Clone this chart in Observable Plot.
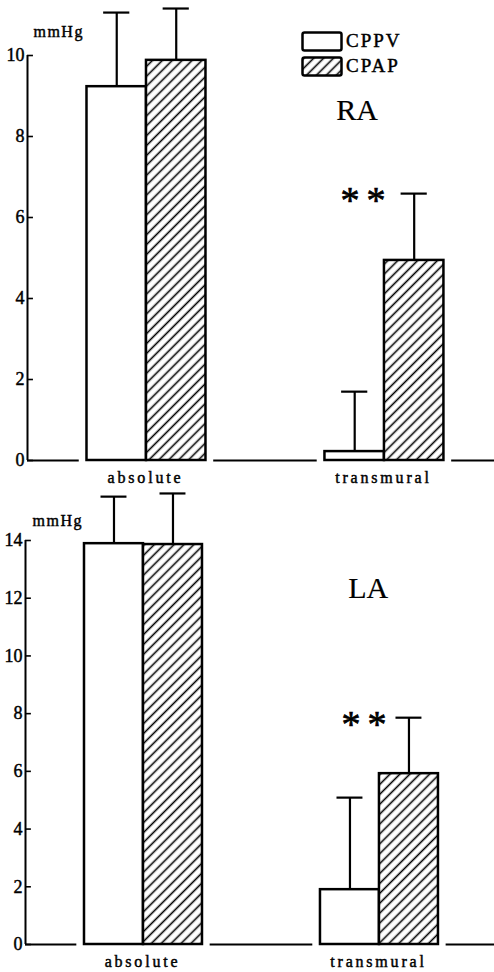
<!DOCTYPE html>
<html>
<head>
<meta charset="utf-8">
<script src="https://cdn.jsdelivr.net/npm/d3@7"></script>
<script src="https://cdn.jsdelivr.net/npm/@observablehq/plot@0.6"></script>
<style>
  html, body { margin: 0; padding: 0; background: #fff; }
  #wrap { position: relative; width: 494px; height: 972px; font-family: "Liberation Serif", serif; color: #000; }
  #wrap svg.plot { display: block; }
  #wrap svg text { font-family: "Liberation Serif", serif; stroke: #000; stroke-width: 0.45px; paint-order: stroke; }
  #wrap svg text.big { stroke-width: 0.2px; }
  #wrap svg text.sig { stroke-width: 0.7px; }
  .leg { position: absolute; }
  .leg span { position: absolute; font-size: 19px; letter-spacing: 2px; line-height: 1; white-space: nowrap; -webkit-text-stroke: 0.45px #000; }
</style>
</head>
<body>
<div id="wrap"></div>
<script>
// ---- data (mmHg) ----
const groups = ["absolute", "transmural"];
const series = ["CPPV", "CPAP"];
const panels = ["RA", "LA"];

const raCPPV   = [9.23, 0.22];
const raCPPVsd = [1.83, 1.48];
const raCPAP   = [9.88, 4.94];
const raCPAPsd = [1.28, 1.65];
const raSig    = ["", "**"];
const raTicks  = [0, 2, 4, 6, 8, 10];

const laCPPV   = [13.89, 1.90];
const laCPPVsd = [1.63, 3.19];
const laCPAP   = [13.86, 5.92];
const laCPAPsd = [1.77, 1.94];
const laSig    = ["", "**"];
const laTicks  = [0, 2, 4, 6, 8, 10, 12, 14];

// ---- drawing ----
const wrap = document.getElementById("wrap");

function addHatch(svgNode, id, spacing, sw) {
  const defs = d3.select(svgNode).insert("defs", ":first-child");
  defs.append("pattern")
    .attr("id", id)
    .attr("patternUnits", "userSpaceOnUse")
    .attr("width", spacing).attr("height", spacing)
    .attr("patternTransform", "rotate(45)")
    .call(p => p.append("rect").attr("width", spacing).attr("height", spacing).attr("fill", "white"))
    .append("line")
    .attr("x1", spacing / 2).attr("x2", spacing / 2)
    .attr("y1", 0).attr("y2", spacing)
    .attr("stroke", "black").attr("stroke-width", sw);
}

function panel(o) {
  const rows = [];
  groups.forEach((g, i) => {
    const c = 2 + 4 * i;
    [[o.cppv, o.cppvSd], [o.cpap, o.cpapSd]].forEach(([vals, sds], j) => {
      rows.push({
        group: g, series: series[j], gi: i,
        x1: c - 1 + j, x2: c + j, xc: c - 0.5 + j,
        value: vals[i], top: vals[i] + sds[i],
        sig: j === 1 ? o.sig[i] : ""
      });
    });
  });
  const gap = 0.13;
  const edges = [0, ...groups.flatMap((g, i) => [2 + 4 * i - 1 - gap, 2 + 4 * i + 1 + gap]), o.xMax];
  const segs = [];
  for (let k = 0; k < edges.length; k += 2) segs.push([edges[k], edges[k + 1]]);

  const svg = Plot.plot({
    width: 494,
    height: 486,
    marginLeft: o.ml,
    marginRight: 0,
    marginTop: o.mt,
    marginBottom: o.mb,
    x: {domain: [0, o.xMax], axis: null},
    y: {domain: [0, o.yMax]},
    style: {fontFamily: "'Liberation Serif', serif", color: "black", background: "white", overflow: "visible"},
    marks: [
      Plot.ruleY(segs, {y: 0, x1: d => d[0], x2: d => d[1], stroke: "black", strokeWidth: 2}),
      Plot.ruleX([0], {y1: 0, y2: o.yMax, stroke: "black", strokeWidth: 2}),
      Plot.ruleY(o.ticks, {x1: 0, x2: 0.1, stroke: "black", strokeWidth: 1.6}),
      Plot.axisY(o.ticks, {tickSize: 0, tickPadding: 3, fontSize: 18, label: null}),
      Plot.ruleX(rows, {x: "xc", y1: "value", y2: "top", stroke: "black", strokeWidth: 2.2}),
      Plot.ruleY(rows, {y: "top", x1: d => d.xc - 0.22, x2: d => d.xc + 0.22, stroke: "black", strokeWidth: 2.2}),
      Plot.rect(rows.filter(d => d.series === series[0]), {x1: "x1", x2: "x2", y1: 0, y2: "value", fill: "white", stroke: "black", strokeWidth: 2.5}),
      Plot.rect(rows.filter(d => d.series === series[1]), {x1: "x1", x2: "x2", y1: 0, y2: "value", fill: `url(#${o.pat})`, stroke: "black", strokeWidth: 2.5}),
      Plot.text(rows.filter(d => d.sig), {x: "x1", y: "top", text: "sig", textAnchor: "end", lineAnchor: "bottom", dx: o.sigDx, dy: 19, fontSize: 38}),
      Plot.text(groups, {x: (d, i) => 2 + 4 * i, y: 0, text: d => d, lineAnchor: "bottom", dy: 22, dx: -1, fontSize: 16}),
      Plot.text([o.name], {x: o.nameX, y: o.nameY, text: d => d, lineAnchor: "bottom", fontSize: 30}),
      Plot.text(["mmHg"], {x: o.unitX, y: o.unitY, text: d => d, textAnchor: "start", lineAnchor: "bottom", fontSize: 16})
    ]
  });
  addHatch(svg, o.pat, 7, 1.6);
  const sel = d3.select(svg).selectAll("text");
  sel.filter(function () { return groups.includes(this.textContent); }).attr("letter-spacing", 2.8);
  sel.filter(function () { return this.textContent === "mmHg"; }).attr("letter-spacing", 1.5);
  sel.filter(function () { return this.textContent === "**"; }).attr("letter-spacing", 7).attr("class", "sig");
  sel.filter(function () { return panels.includes(this.textContent); }).attr("class", "big");
  return svg;
}

wrap.appendChild(panel({
  name: panels[0], cppv: raCPPV, cppvSd: raCPPVsd, cpap: raCPAP, cpapSd: raCPAPsd, sig: raSig,
  ticks: raTicks, yMax: 10, xMax: 7.85, ml: 27, mt: 55, mb: 26, pat: "hatchRA",
  nameX: 5.54, nameY: 8.4, unitX: 0.1, unitY: 10.45, sigDx: 8
}));
wrap.appendChild(panel({
  name: panels[1], cppv: laCPPV, cppvSd: laCPPVsd, cpap: laCPAP, cpapSd: laCPAPsd, sig: laSig,
  ticks: laTicks, yMax: 14, xMax: 7.95, ml: 25, mt: 54, mb: 28, pat: "hatchLA",
  nameX: 5.81, nameY: 12.02, unitX: 0.12, unitY: 14.5, sigDx: 14
}));

// legend (HTML overlay)
series.forEach((s, j) => {
  const top = 32 + j * 25;
  const box = document.createElementNS("http://www.w3.org/2000/svg", "svg");
  box.setAttribute("width", 42); box.setAttribute("height", 21);
  box.setAttribute("class", "leg");
  box.style.left = "301px"; box.style.top = (top - 1) + "px";
  const id = "legHatch" + j;
  box.innerHTML = `<defs><pattern id="${id}" patternUnits="userSpaceOnUse" width="7" height="7" patternTransform="rotate(45)"><rect width="7" height="7" fill="white"/><line x1="3.5" x2="3.5" y1="0" y2="7" stroke="black" stroke-width="1.6"/></pattern></defs>` +
    `<rect x="1.5" y="1.5" width="39" height="18" rx="2" fill="${j === 1 ? `url(#${id})` : "white"}" stroke="black" stroke-width="2.5"/>`;
  wrap.appendChild(box);
  const lab = document.createElement("div");
  lab.className = "leg";
  lab.style.left = "346px"; lab.style.top = (top - 1) + "px";
  lab.innerHTML = `<span>${s}</span>`;
  wrap.appendChild(lab);
});
</script>
</body>
</html>
